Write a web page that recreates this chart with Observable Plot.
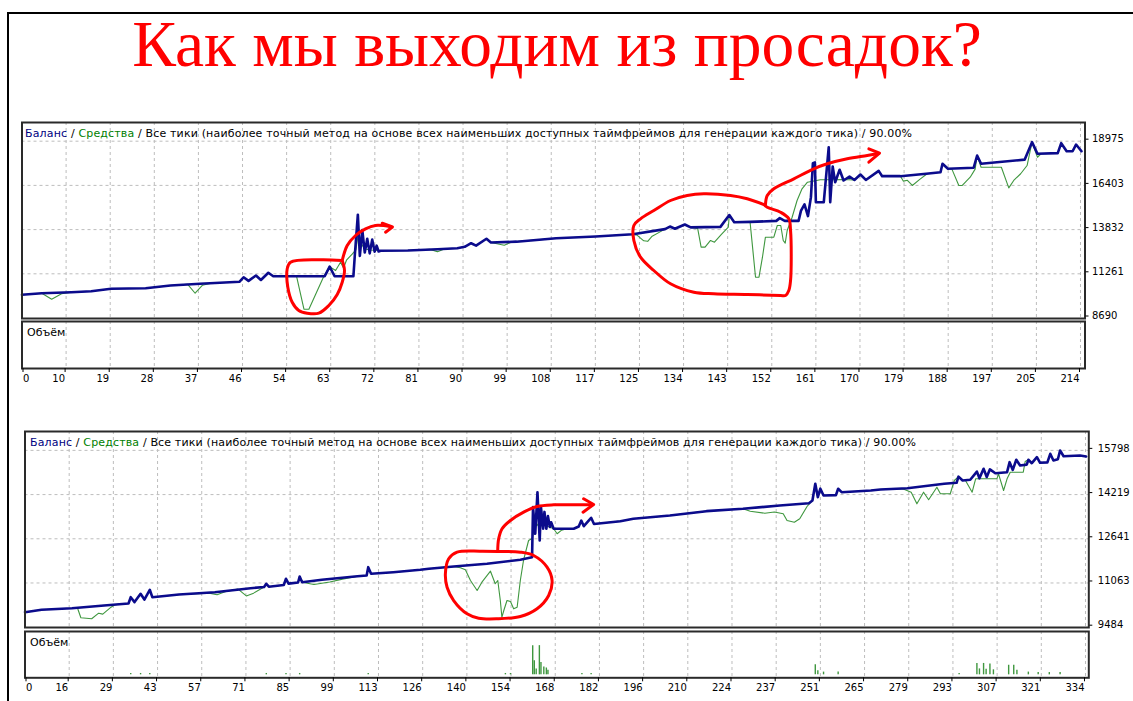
<!DOCTYPE html>
<html><head><meta charset="utf-8">
<script src="https://cdn.jsdelivr.net/npm/d3@7"></script>
<script src="https://cdn.jsdelivr.net/npm/@observablehq/plot@0.6"></script>
<style>
html,body{margin:0;padding:0;background:#fff;overflow:hidden;}
#root{position:relative;width:1133px;height:701px;overflow:hidden;background:#fff;}
#frame{position:absolute;left:7px;top:12px;width:1200px;height:800px;border-top:2px solid #000;border-left:2px solid #000;}
#title{position:absolute;left:0;width:1114px;top:7px;text-align:center;font-family:"Liberation Serif","Times New Roman",serif;font-size:65.5px;color:#ff0000;line-height:normal;white-space:nowrap;}
#root svg{position:absolute;left:0;overflow:hidden;}
</style></head>
<body><div id="root"><div id="frame"></div><div id="title">Как мы выходим из просадок?</div></div>
<script>
// ---------- DATA ----------
const headerRest = " / Все тики (наиболее точный метод на основе всех наименьших доступных таймфреймов для генерации каждого тика) / 90.00%";

const topXLabels = ["0","10","19","28","37","46","54","63","72","81","90","99","108","117","125","134","143","152","161","170","179","188","197","205","214"];
const botXLabels = ["0","16","29","43","57","71","85","99","113","126","140","154","168","182","196","210","224","237","251","265","279","293","307","321","334"];
const topYTicks = [8690, 11261, 13832, 16403, 18975];
const botYTicks = [9484, 11063, 12641, 14219, 15798];

// [trade, balance]
const topBalance = [
[0,10040],[4,10130],[10,10190],[14,10250],[18,10390],[25,10420],[30,10580],[36,10680],[42,10770],[44,10800],
[44.8,11060],[45.8,10850],[47.3,11160],[48.3,10900],[49.8,11320],[50.8,11120],[61.2,11120],[62.2,11680],[63.2,11120],
[67,11120],[67.3,12400],[67.9,14700],[68.3,12300],[68.8,13800],[69.3,12500],[69.8,13300],[70.3,12450],[70.8,13250],
[71.3,12550],[71.7,12900],[72.1,12560],[72.5,12600],[78,12620],[84,12690],[88,12750],[89.5,12830],[90.8,13040],
[91.8,12900],[93.9,13300],[94.8,13080],[100,13130],[108,13330],[116,13430],[123.5,13560],[130,13860],[131,14010],
[132,13880],[134,14130],[135.2,13960],[141.2,13990],[143,14680],[144,14260],[147.3,14280],[152.5,14340],[153.2,14500],
[154.2,14340],[157,14340],[157.5,14940],[158.2,15300],[158.9,14620],[159.5,15720],[159.9,17700],[160.3,17740],
[160.5,15425],[162.1,15425],[163.1,18625],[163.4,15425],[163.9,17500],[164.4,16590],[165.3,17310],[166.1,16690],
[167.3,16920],[168.3,16720],[169.5,17037],[170.6,16720],[173.2,17250],[173.9,16940],[177.6,16940],[182.8,17080],
[185.7,17170],[186.1,17660],[187.2,17370],[192.4,17430],[193.1,18140],[193.9,17660],[202.7,17900],[204.2,18920],
[205.3,18240],[209.4,18280],[210.1,18860],[211.2,18390],[212.4,18390],[213.1,18780],[214.2,18390]
];
// [trade, equity]
const topEquity = [
[0,10040],[4,10130],[6,9780],[8,10100],[10,10190],[14,10250],[18,10390],[25,10420],[30,10580],[33.5,10650],
[35,10130],[36.5,10600],[38,10700],[42,10770],[44,10800],[44.8,11060],[45.8,10850],[47.3,11160],[48.3,10900],
[49.8,11320],[50.8,11120],[55.5,11120],[57,9200],[58,9200],[61,11100],[62.2,11680],[63.4,11450],[64.4,11930],
[65,11600],[65.6,12050],[66.8,12420],[67.5,12650],[68,13600],[68.6,13000],[69.3,12700],[70.5,12650],[72.5,12600],
[78,12620],[82.5,12680],[84,12550],[85.5,12720],[88,12750],[89.5,12830],[90.8,13040],[91.8,12900],[93.9,13300],
[94.8,13080],[97.5,12920],[99,13110],[100,13130],[108,13330],[116,13430],[123.5,13560],[124.4,13500],[125.7,13180],
[126.5,13150],[127.4,13450],[129,13700],[130,13860],[131,14010],[132,13880],[134,14130],[135.2,13960],[136.6,13900],
[137.3,12810],[138.1,12810],[139.2,13200],[140,13100],[141.4,13550],[142.8,13970],[143,14680],[144,14260],
[147.2,14260],[147.7,12810],[148.3,11063],[149,11063],[149.7,12226],[150.3,13390],[152,13390],[152.7,14070],
[153.4,14070],[153.9,13200],[154.3,13050],[154.7,13780],[155.7,14550],[156.7,15525],[157.7,16205],[158.8,16590],
[161.4,16730],[164,16730],[166,16750],[168.3,16720],[169.5,17037],[170.6,16720],[173.2,17250],[173.9,16940],
[177.6,16940],[178.2,16650],[179,16700],[180,16400],[181.5,16750],[183,17080],[185.7,17170],[186.1,17660],
[187.2,17370],[188,17350],[189.4,16400],[190.1,16400],[191.7,16880],[192.7,17350],[193.1,18140],[193.9,17460],
[198,17460],[199.5,16260],[200.5,16690],[201.9,17080],[203.2,17560],[204.2,18920],[205.3,18040],[206,18240],
[209.4,18280],[210.1,18860],[211.2,18390],[212.4,18390],[213.1,18780],[214.2,18390]
];
const botBalance = [
[0,10020],[5.2,10105],[14.8,10163],[24.9,10259],[31.6,10319],[32.6,10330],[33.3,10555],[34.5,10380],[36.4,10677],
[37.6,10470],[39.3,10820],[40.1,10555],[48.5,10650],[59.8,10734],[71,10877],[75.3,10920],[76,11034],[76.8,10930],
[81.5,10990],[82.2,11212],[83,11040],[86,11080],[86.5,11295],[87.3,11091],[93.5,11177],[104.7,11305],[107.6,11330],
[108.1,11627],[109,11391],[116,11448],[124.5,11534],[127.2,11570],[135,11652],[145.5,11748],[156,11891],[159.7,11984],
[160,13770],[160.7,12820],[161.4,14305],[162.1,12580],[162.5,13770],[163.2,13000],[163.6,13600],[164.2,13000],
[164.7,13450],[165.3,13060],[165.7,13230],[166.5,12998],[172.8,12998],[174.4,13080],[175.2,13290],[176,13090],
[178.3,13390],[179.2,13170],[187.5,13270],[191.6,13355],[203.1,13473],[214.6,13627],[226.1,13712],[237.7,13830],
[246.9,13912],[248,14008],[248.9,14605],[249.7,14126],[250.5,14430],[251.5,14186],[255.4,14200],[256.1,14426],
[257.2,14305],[266.4,14366],[269.4,14400],[277.9,14448],[289.5,14605],[293.4,14640],[294,14860],[295.3,14720],
[297.7,14748],[299.8,15040],[300.6,14800],[301.9,15140],[302.9,14850],[303.9,15120],[305.6,14983],[309.3,15019],
[310.1,15376],[311.1,15100],[312.2,15462],[313.4,15260],[315.5,15290],[316,15462],[317.1,15340],[318.7,15555],
[319.7,15355],[322,15370],[322.9,15676],[323.9,15437],[325.3,15480],[326,15794],[327.1,15590],[332.3,15615],[334.2,15580]
];
const botEquity = [
[0,10020],[5.2,10105],[14.8,10163],[16.5,10180],[17.6,9820],[21,9784],[23.2,9984],[24.5,9950],[27.1,10198],
[28.4,10290],[31.6,10319],[32.6,10330],[33.3,10555],[34.5,10380],[36.4,10677],[37.6,10470],[39.3,10820],[40.1,10555],
[48.5,10650],[58,10700],[60.5,10640],[63,10750],[67,10850],[69.7,10600],[72,10700],[75.3,10920],[76,11034],
[76.8,10930],[81.5,10990],[82.2,11212],[83,11040],[86,11080],[86.5,11295],[87.3,11091],[91,11010],[96,11100],
[100,11200],[104.7,11305],[107.6,11330],[108.1,11627],[109,11391],[116,11448],[124.5,11534],[127.2,11570],[135,11652],
[137.1,11605],[138.7,11534],[140.3,11152],[142.4,10795],[143.9,11091],[146.6,11484],[148.1,11034],[148.9,11152],
[149.7,10437],[150.2,9841],[150.8,10080],[151.8,10437],[152.9,10400],[153.9,10140],[155,10198],[156,11152],
[157,11866],[158.6,12580],[159.7,12650],[161,13200],[162,13050],[163,13150],[164.5,13100],[166.5,13000],[167.6,12820],
[169,12950],[170.7,12998],[172.8,12998],[174.4,13080],[175.2,13290],[176,13090],[178.3,13390],[179.2,13170],
[187.5,13270],[191.6,13355],[203.1,13473],[214.6,13627],[226.1,13712],[228.4,13627],[233,13555],[236,13600],
[238.8,13533],[240,13294],[242.3,13234],[244,13355],[246.3,13794],[247.5,13950],[248,14008],[248.9,14605],
[249.7,14126],[250.5,14430],[251.5,14186],[255.4,14200],[256.1,14426],[257.2,14305],[266.4,14366],[269.4,14400],
[275.7,14426],[277,14400],[279.1,14305],[280.9,13890],[283,14305],[284.6,14034],[287.2,14483],[288.3,14248],
[291.4,14248],[292.7,14723],[294,14860],[295.3,14720],[296.2,14723],[298.3,14305],[299.4,14783],[306.1,14783],
[306.6,14960],[308.2,14366],[309.3,14783],[310.3,15019],[314.4,15019],[315,15400],[316,15462],[317.1,15340],
[318.7,15555],[319.7,15355],[322,15370],[322.9,15676],[323.9,15437],[325.3,15480],[326,15794],[327.1,15590],
[332.3,15615],[334.2,15580]
];
// [trade, lots]
const botVolume = [
[33.3,0.03],[36.4,0.03],[39.3,0.03],[76,0.03],[82.2,0.03],[86.5,0.03],[108.1,0.03],[151.3,0.03],[152.9,0.03],
[159.9,0.64],[160.4,0.31],[161,0.13],[162,0.64],[162.5,0.27],[163.4,0.17],[164.2,0.15],[164.7,0.10],
[175.4,0.03],[178.3,0.03],[248.9,0.22],[249.7,0.09],[251.5,0.06],[256.1,0.06],[294.2,0.03],
[299.8,0.25],[300.6,0.13],[301.9,0.25],[302.7,0.12],[303.9,0.24],[305,0.11],[309.8,0.21],[311.4,0.21],
[312.4,0.10],[316,0.06],[319.1,0.05],[322.6,0.05],[326,0.05]
];

// hand-drawn red annotations, in chart units [trade, value]
const topRedLoop1 = [[64.74,12035],[60.35,12076],[54.29,11936],[53.62,11552],[53.74,10482],[54.63,9609],[55.96,9126],
[57.66,8969],[60.01,8969],[62.03,9417],[63.73,10057],[64.74,10772],[65.2,11453],[64.74,12035]];
const topRedStem1 = [[64.74,12035],[65.75,12907],[67.43,13489],[69.45,13879],[71.47,14071],[74.6,14000]];
const topRedHead1 = [[72.83,14205],[74.9,13984],[73.5,13681]];
const topRedLoop2 = [[149.98,15292],[146.62,15624],[143.25,15816],[137.85,15915],[134.49,15816],[131.12,15525],
[127.74,14943],[125.05,14460],[123.7,14071],[123.7,13198],[125.05,12227],[127.74,11453],[131.12,10679],[135.83,10191],
[139.87,10098],[146.62,10057],[153.36,9999],[154.37,9999],[155.03,10290],[155.38,10872],[155.52,12227],[155.38,13780],
[155.03,14460],[153.36,14844],[150.67,15135],[149.98,15292]];
const topRedStem2 = [[150.3,15250],[150.67,15816],[152.0,16206],[156.05,16787],[160.09,17369],[162.8,17660],
[166.84,17951],[170.89,18143],[173.2,18260]];
const topRedHead2 = [[171.21,18532],[173.37,18277],[171.21,17753]];
const botRedLoop = [[148.87,12187],[143.42,12198],[136.08,12162],[133.44,11927],[132.4,11391],[132.93,10912],
[135.01,10437],[139.23,9963],[142.88,9805],[148.68,9784],[156.01,9866],[161.27,10141],[164.93,10616],[166.0,11152],
[164.42,11627],[160.2,12044],[156.01,12162],[148.87,12187]];
const botRedStem = [[148.87,12187],[149.18,12641],[150.25,12998],[152.87,13294],[157.05,13591],[161.27,13794],
[166.5,13855],[170.72,13855],[178.6,13860]];
const botRedHead = [[175.94,14069],[179.09,13866],[175.76,13591]];

// ---------- DRAWING ----------
const W = 1133;
const root = document.getElementById("root");
const FONT = "DejaVu Sans, Verdana, sans-serif";
const gridStyle = {stroke: "#bdbdbd", strokeOpacity: 1, strokeWidth: 1, strokeDasharray: "3,3"};
const X = d => d[0], Y = d => d[1];

function place(svg, top) { svg.style.top = top + "px"; root.appendChild(svg); return svg; }

function mainPanel(o) {
  const w = o.w || W;
  const xt = o.labels.map((_, i) => i * o.lastTick / (o.labels.length - 1));
  const redMarks = [];
  for (const p of o.loops) redMarks.push(Plot.line(p, {x: X, y: Y, stroke: "#ff0000", strokeWidth: 3, curve: "catmull-rom", strokeLinejoin: "round", strokeLinecap: "round"}));
  for (const p of o.heads) redMarks.push(Plot.line(p, {x: X, y: Y, stroke: "#ff0000", strokeWidth: 3, strokeLinejoin: "round", strokeLinecap: "round"}));
  const svg = Plot.plot({
    width: w, height: o.h,
    marginLeft: o.left, marginRight: w - o.right, marginTop: o.areaTop - o.top, marginBottom: o.top + o.h - o.areaBottom,
    x: {domain: o.xDomain, axis: null},
    y: {domain: o.yDomain, axis: null},
    style: {background: "transparent", fontFamily: FONT, fontSize: "10px", color: "#000", overflow: "hidden"},
    marks: [
      Plot.gridX(xt, gridStyle),
      Plot.gridY(o.yTicks.slice(1), gridStyle),
      Plot.line(o.equity, {x: X, y: Y, stroke: "#3f973f", strokeWidth: 1.1}),
      Plot.line(o.balance, {x: X, y: Y, stroke: "#0b0b8c", strokeWidth: 2.6, strokeLinejoin: "round"}),
      ...redMarks,
      Plot.frame({stroke: "#2a2a2a", strokeWidth: 2}),
      Plot.axisY(o.yTicks, {anchor: "right", tickSize: 3, tickPadding: o.tickPad, textAnchor: "start", dy: -2,
        tickFormat: d3.format("d"), label: null})
    ]
  });
  place(svg, o.top);
  const t = d3.select(svg).append("text")
    .attr("x", o.hx).attr("y", o.hy - o.top)
    .attr("text-anchor", "start")
    .attr("font-family", FONT).attr("font-size", 11)
    .attr("textLength", o.hw).attr("lengthAdjust", "spacing");
  t.append("tspan").attr("fill", "#000080").text("Баланс");
  t.append("tspan").attr("fill", "#000").text(" / ");
  t.append("tspan").attr("fill", "#008000").text("Средства");
  t.append("tspan").attr("fill", "#000").text(headerRest);
}

function volumePanel(o) {
  const xt = o.labels.map((_, i) => i * o.lastTick / (o.labels.length - 1));
  const lab = new Map(xt.map((v, i) => [v, o.labels[i]]));
  const svg = Plot.plot({
    width: W, height: o.h,
    marginLeft: o.left, marginRight: W - o.right, marginTop: o.areaTop - o.top, marginBottom: o.top + o.h - o.areaBottom,
    x: {domain: o.xDomain, axis: null},
    y: {domain: [-0.065, 0.95], axis: null},
    style: {background: "transparent", fontFamily: FONT, fontSize: "10px", color: "#000", overflow: "hidden"},
    marks: [
      Plot.gridX(xt, gridStyle),
      Plot.ruleX(o.volume, {x: X, y1: 0, y2: Y, stroke: "#3f973f", strokeWidth: 1.4}),
      Plot.frame({stroke: "#2a2a2a", strokeWidth: 2}),
      Plot.text(["Объём"], {frameAnchor: "top-left", dx: 5, dy: 7, lineAnchor: "top", textAnchor: "start", fontSize: 11, fill: "#000"}),
      Plot.axisX(xt.slice(0, 1), {anchor: "bottom", tickSize: 4, tickPadding: 2, textAnchor: "start", dx: 1,
        tickFormat: d => lab.get(d), label: null}),
      Plot.axisX(xt.slice(1), {anchor: "bottom", tickSize: 4, tickPadding: 2, textAnchor: "end", dx: -1,
        tickFormat: d => lab.get(d), label: null})
    ]
  });
  place(svg, o.top);
}

// top chart
mainPanel({top: 100, h: 225, w: 1126, areaTop: 122, areaBottom: 318, left: 21.5, right: 1084.5,
  xDomain: [0, 214.91], yDomain: [8661, 20062], labels: topXLabels, lastTick: 214, yTicks: topYTicks, tickPad: 4,
  balance: topBalance, equity: topEquity,
  loops: [topRedLoop1, topRedStem1, topRedLoop2, topRedStem2], heads: [topRedHead1, topRedHead2],
  hx: 25, hy: 137, hw: 887});
volumePanel({top: 300, h: 100, areaTop: 321, areaBottom: 368, left: 21.5, right: 1084.5,
  xDomain: [0, 214.91], labels: topXLabels, lastTick: 214, volume: []});

// bottom chart
mainPanel({top: 410, h: 225, areaTop: 431, areaBottom: 627, left: 24.5, right: 1088.3,
  xDomain: [0, 335.04], yDomain: [9473, 16472], labels: botXLabels, lastTick: 334, yTicks: botYTicks, tickPad: 6,
  balance: botBalance, equity: botEquity,
  loops: [botRedLoop, botRedStem], heads: [botRedHead],
  hx: 30, hy: 446, hw: 886});
volumePanel({top: 610, h: 91, areaTop: 631, areaBottom: 677.3, left: 24.5, right: 1088.3,
  xDomain: [0, 335.04], labels: botXLabels, lastTick: 334, volume: botVolume});
</script></body></html>
